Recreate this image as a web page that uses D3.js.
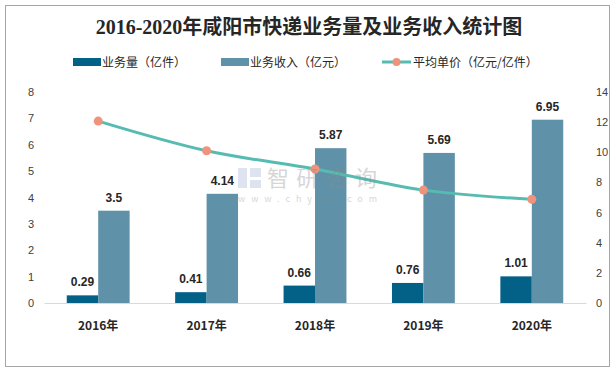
<!DOCTYPE html>
<html>
<head>
<meta charset="utf-8">
<script src="https://cdn.jsdelivr.net/npm/d3@7/dist/d3.min.js"></script>
<style>
  body { margin: 0; background: #fff; }
  text { font-family: "Noto Sans CJK SC", "Noto Sans", sans-serif; }
</style>
</head>
<body>
<svg id="chart" width="615" height="372"></svg>
<script>
var years = ["2016年", "2017年", "2018年", "2019年", "2020年"];
var volume = [0.29, 0.41, 0.66, 0.76, 1.01];      // 业务量（亿件）
var revenue = [3.5, 4.14, 5.87, 5.69, 6.95];      // 业务收入（亿元）
var unitPrice = [12.07, 10.1, 8.89, 7.49, 6.88];  // 平均单价（亿元/亿件）
var leftTicks = [0, 1, 2, 3, 4, 5, 6, 7, 8];
var rightTicks = [0, 2, 4, 6, 8, 10, 12, 14];

var svg = d3.select("#chart"),
    width = +svg.attr("width"),
    height = +svg.attr("height");

var margin = {top: 92, right: 29, bottom: 69, left: 44};

var darkColor = "#036087",
    lightColor = "#5f92a8",
    lineColor = "#56bcb1",
    dotColor = "#f0937c";

// outer frame
svg.append("rect")
   .attr("x", 5.5).attr("y", 5.5)
   .attr("width", width - 11).attr("height", height - 11)
   .attr("fill", "#fff").attr("stroke", "#a6a6a6").attr("stroke-width", 1);

var x = d3.scaleBand().domain(years).range([margin.left, width - margin.right]),
    yLeft = d3.scaleLinear().domain([0, 8]).range([height - margin.bottom, margin.top]),
    yRight = d3.scaleLinear().domain([0, 14]).range([height - margin.bottom, margin.top]);

var barW = x.bandwidth() * 0.29;

// title
svg.append("text")
   .attr("x", 309).attr("y", 34)
   .attr("text-anchor", "middle")
   .style("font-family", "'Liberation Serif', 'Noto Sans CJK SC', serif")
   .style("font-size", "20px")
   .style("font-weight", "bold")
   .attr("fill", "#262626")
   .text("2016-2020年咸阳市快递业务量及业务收入统计图");

// legend
var legend = svg.append("g").attr("class", "legend");
legend.append("rect").attr("x", 73).attr("y", 58).attr("width", 28).attr("height", 8).attr("fill", darkColor);
legend.append("text").attr("x", 102).attr("y", 66.5).style("font-size", "12px").attr("fill", "#262626").text("业务量（亿件）");
legend.append("rect").attr("x", 221).attr("y", 58).attr("width", 28).attr("height", 8).attr("fill", lightColor);
legend.append("text").attr("x", 250).attr("y", 66.5).style("font-size", "12px").attr("fill", "#262626").text("业务收入（亿元）");
legend.append("line").attr("x1", 382).attr("x2", 411).attr("y1", 62).attr("y2", 62)
      .attr("stroke", lineColor).attr("stroke-width", 3);
legend.append("circle").attr("cx", 396.5).attr("cy", 62).attr("r", 4).attr("fill", dotColor);
legend.append("text").attr("x", 413).attr("y", 66.5).style("font-size", "12px").attr("fill", "#262626").text("平均单价（亿元/亿件）");

// axes (labels only, no domain lines)
var leftAxis = svg.append("g")
   .attr("transform", "translate(" + margin.left + ",0)")
   .call(d3.axisLeft(yLeft).tickValues(leftTicks).tickSize(0).tickPadding(10));
var rightAxis = svg.append("g")
   .attr("transform", "translate(" + (width - margin.right) + ",0)")
   .call(d3.axisRight(yRight).tickValues(rightTicks).tickSize(0).tickPadding(10));
[leftAxis, rightAxis].forEach(function(ax) {
  ax.select(".domain").remove();
  ax.selectAll("text")
    .style("font-family", "'Liberation Sans', 'Noto Sans', sans-serif")
    .style("font-size", "11px")
    .attr("fill", "#404040");
});

var xAxis = svg.append("g")
   .attr("transform", "translate(0," + (height - margin.bottom) + ")")
   .call(d3.axisBottom(x).tickSize(0).tickPadding(18));
xAxis.select(".domain").attr("stroke", "#d9d9d9").attr("stroke-width", 1);
xAxis.selectAll("text")
   .style("font-size", "12px")
   .style("font-weight", "bold")
   .attr("fill", "#262626");

// bars
var groups = svg.append("g").selectAll("g")
   .data(years).enter().append("g");

groups.append("rect")
   .attr("x", function(d) { return x(d) + x.bandwidth() / 2 - barW; })
   .attr("y", function(d, i) { return yLeft(volume[i]); })
   .attr("width", barW)
   .attr("height", function(d, i) { return yLeft(0) - yLeft(volume[i]); })
   .attr("fill", darkColor);

groups.append("rect")
   .attr("x", function(d) { return x(d) + x.bandwidth() / 2; })
   .attr("y", function(d, i) { return yLeft(revenue[i]); })
   .attr("width", barW)
   .attr("height", function(d, i) { return yLeft(0) - yLeft(revenue[i]); })
   .attr("fill", lightColor);

// bar labels
groups.append("text")
   .attr("x", function(d) { return x(d) + x.bandwidth() / 2 - barW / 2; })
   .attr("y", function(d, i) { return yLeft(volume[i]) - 9; })
   .attr("text-anchor", "middle")
   .style("font-family", "'Liberation Sans', 'Noto Sans', sans-serif")
   .style("font-size", "12px").style("font-weight", "bold")
   .attr("fill", "#262626")
   .text(function(d, i) { return volume[i]; });

groups.append("text")
   .attr("x", function(d) { return x(d) + x.bandwidth() / 2 + barW / 2; })
   .attr("y", function(d, i) { return yLeft(revenue[i]) - 9; })
   .attr("text-anchor", "middle")
   .style("font-family", "'Liberation Sans', 'Noto Sans', sans-serif")
   .style("font-size", "12px").style("font-weight", "bold")
   .attr("fill", "#262626")
   .text(function(d, i) { return revenue[i]; });

// price line (smoothed)
var line = d3.line()
   .x(function(d, i) { return x(years[i]) + x.bandwidth() / 2; })
   .y(function(d) { return yRight(d); })
   .curve(d3.curveMonotoneX);

svg.append("path")
   .datum(unitPrice)
   .attr("d", line)
   .attr("fill", "none")
   .attr("stroke", lineColor)
   .attr("stroke-width", 3);

svg.append("g").selectAll("circle")
   .data(unitPrice).enter().append("circle")
   .attr("cx", function(d, i) { return x(years[i]) + x.bandwidth() / 2; })
   .attr("cy", function(d) { return yRight(d); })
   .attr("r", 4.5)
   .attr("fill", dotColor);

// watermark
var wm = svg.append("g").attr("opacity", 0.35);
wm.append("rect").attr("x", 238).attr("y", 168).attr("width", 9).attr("height", 20).attr("fill", "#9fb3d6");
wm.append("rect").attr("x", 250).attr("y", 168).attr("width", 11).attr("height", 9).attr("fill", "#9fb3d6");
wm.append("rect").attr("x", 250).attr("y", 180).attr("width", 11).attr("height", 8).attr("fill", "#9fb3d6");
wm.append("text").attr("x", 267).attr("y", 186)
  .style("font-size", "22px").attr("fill", "#8c8c8c")
  .attr("textLength", 110)
  .text("智研咨询");
wm.append("text").attr("x", 238).attr("y", 202)
  .style("font-size", "9px").attr("fill", "#8c8c8c")
  .attr("textLength", 139)
  .text("www.chyxx.com");
</script>
</body>
</html>
